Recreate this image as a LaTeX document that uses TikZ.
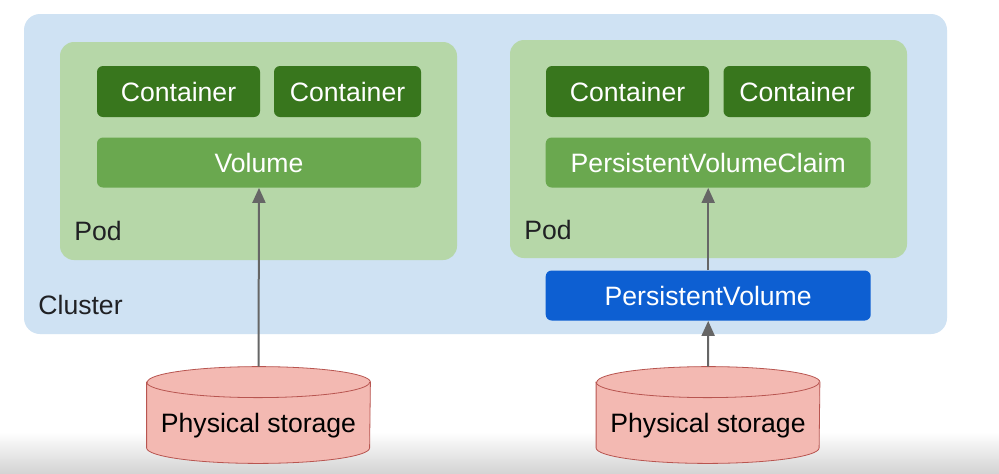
\documentclass[tikz,border=0pt]{standalone}
\usepackage{fontspec}
\setmainfont{Liberation Sans}
\usepackage{tikz}
\usetikzlibrary{arrows.meta,backgrounds}

\definecolor{clusterblue}{HTML}{CFE2F3}
\definecolor{podgreen}{HTML}{B6D7A8}
\definecolor{contgreen}{HTML}{38761D}
\definecolor{volgreen}{HTML}{6AA84F}
\definecolor{pvblue}{HTML}{0D5FD2}
\definecolor{diskfill}{HTML}{F3B9B2}
\definecolor{diskline}{HTML}{B85550}
\definecolor{arrowgray}{HTML}{666666}
\definecolor{labelgray}{HTML}{202124}

\begin{document}
\begin{tikzpicture}[x=0.5pt,y=-0.5pt,
  font=\fontsize{13.3}{16}\selectfont,
  area/.style={rectangle,rounded corners=7pt,inner sep=0pt},
  box/.style={rectangle,rounded corners=3pt,inner sep=0pt,minimum height=25.5pt,text=white},
  tag/.style={anchor=base west,inner sep=0pt,text=labelgray},
  disk/.style={rectangle,inner sep=0pt,minimum width=111.5pt,minimum height=48pt,
    text height=18pt,text depth=1pt,text=black},
  diskcap/.style={x radius=55.75pt,y radius=7.75pt},
  link/.style={draw=arrowgray,line width=1pt,-{Triangle[length=7.5pt,width=6.5pt]}}]

\useasboundingbox (0,0) rectangle (999,473);

% cluster and pods
\node[area,fill=clusterblue,rounded corners=8pt,minimum width=461.5pt,minimum height=160pt] (cluster) at (485.5,174) {};
\node[tag] (clusterlbl) at (38,314) {Cluster};
\node[area,fill=podgreen,minimum width=198.5pt,minimum height=109pt] (podL) at (258.5,151) {};
\node[area,fill=podgreen,minimum width=198.5pt,minimum height=109pt] (podR) at (708.5,149) {};
\node[tag] (podLlbl) at (74,240) {Pod};
\node[tag] (podRlbl) at (524,239) {Pod};

% left pod
\node[box,fill=contgreen,minimum width=81.5pt] (contLa) at (178.5,91.5) {Container};
\node[box,fill=contgreen,minimum width=73.5pt] (contLb) at (347.5,91.5) {Container};
\node[box,fill=volgreen,minimum width=162pt,minimum height=25pt] (volL) at (259,162.5) {Volume};

% right pod
\node[box,fill=contgreen,minimum width=81.5pt] (contRa) at (627.5,91.5) {Container};
\node[box,fill=contgreen,minimum width=73.5pt] (contRb) at (797,91.5) {Container};
\node[box,fill=volgreen,minimum width=162.5pt,minimum height=25pt] (pvc) at (708.2,162.5) {PersistentVolumeClaim};
\node[box,fill=pvblue,minimum width=162.5pt,minimum height=25pt] (pv) at (708.2,295.5) {PersistentVolume};

% storage
\node[disk] (diskL) at (258.5,415) {Physical storage};
\node[disk] (diskR) at (708,415) {Physical storage};

\begin{pgfonlayer}{background}
\fill[white] (0,0) rectangle (999,473);
\shade[top color=white,bottom color=black!17] (0,432) rectangle (999,473);
% cylinder outlines behind the text
\foreach \d in {diskL,diskR}{
  \filldraw[draw=diskline,fill=diskfill,line width=0.4pt]
    ([yshift=-7.75pt]\d.north west) -- ([yshift=7.75pt]\d.south west)
    arc[diskcap,start angle=180,end angle=360]
    -- ([yshift=-7.75pt]\d.north east)
    arc[diskcap,start angle=0,end angle=180] -- cycle;
  \draw[diskline,line width=0.4pt] ([yshift=-7.75pt]\d.north west) arc[diskcap,start angle=180,end angle=360];
}
\end{pgfonlayer}

\draw[link] (diskL.north) -- (volL.south);
\draw[link] (diskR.north) -- (pv.south);
\draw[link] (pv.north) -- (pvc.south);
\end{tikzpicture}
\end{document}
